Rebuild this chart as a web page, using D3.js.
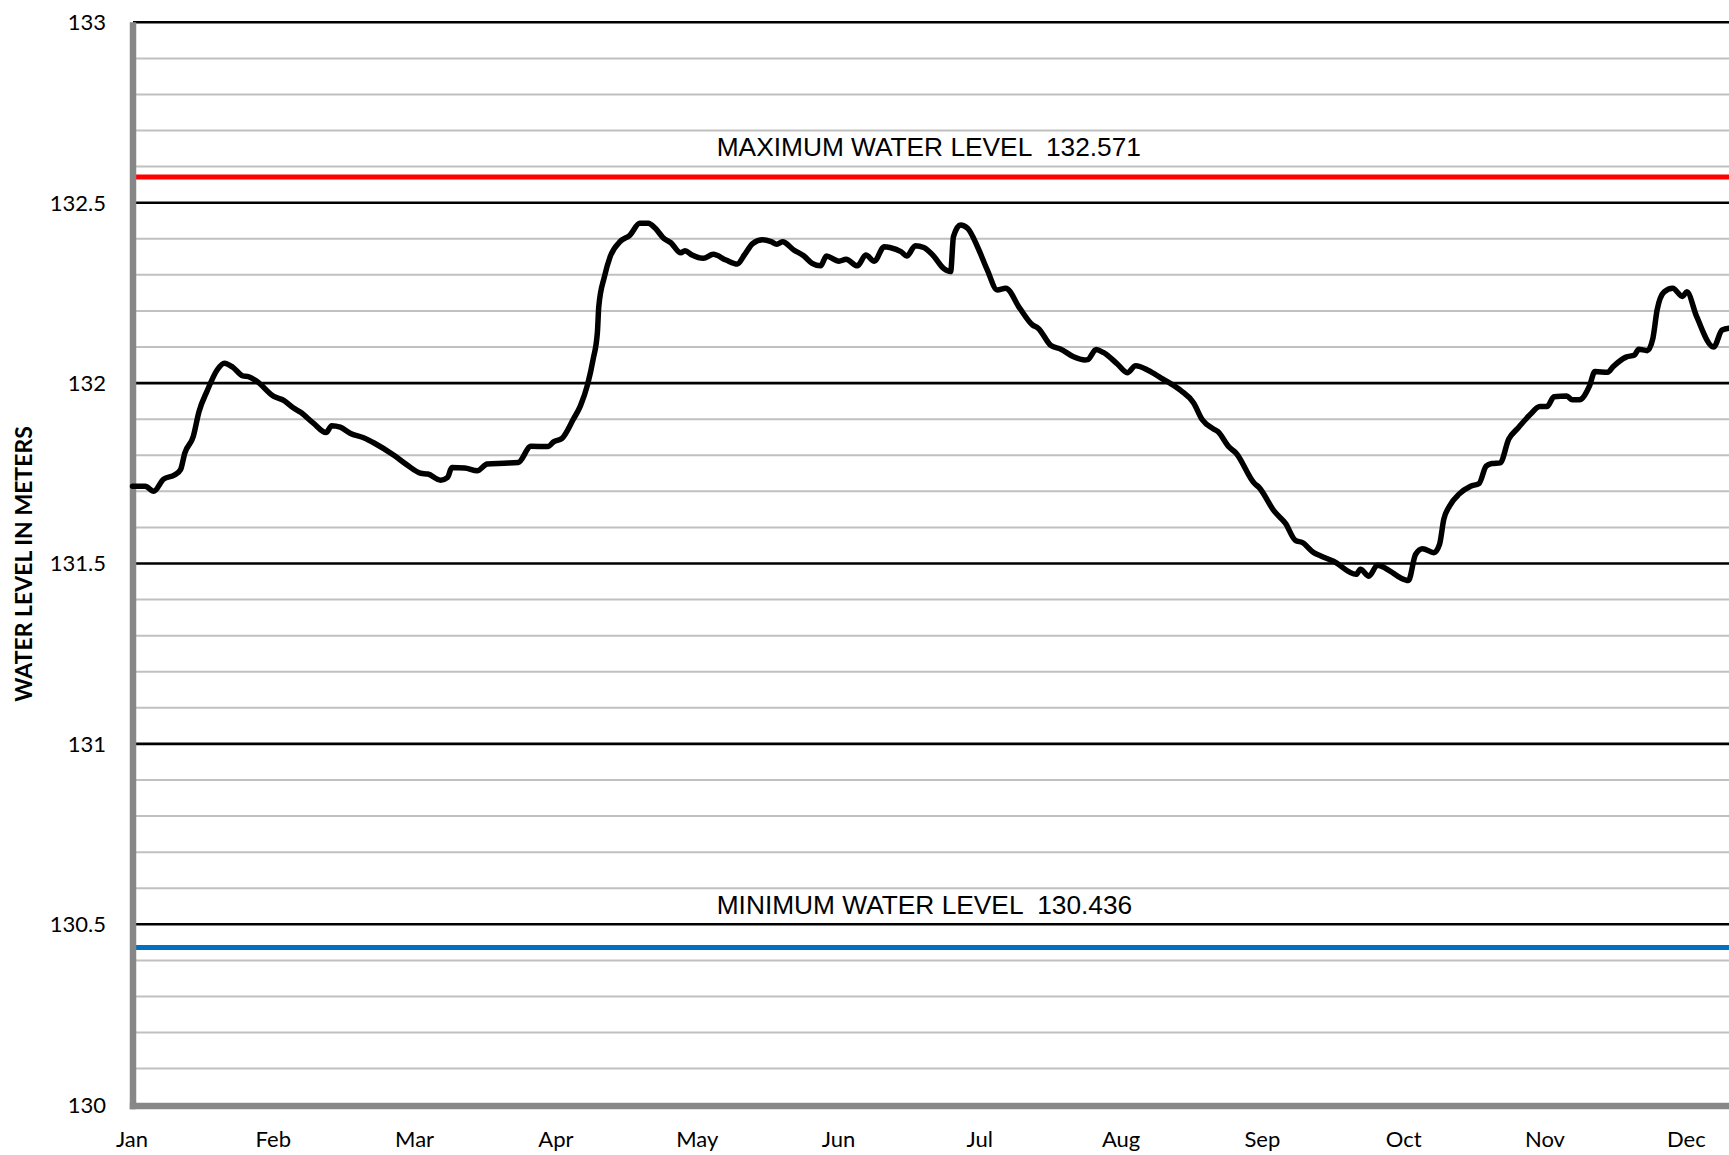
<!DOCTYPE html>
<html>
<head>
<meta charset="utf-8">
<script src="https://cdn.jsdelivr.net/npm/d3@7/dist/d3.min.js"></script>
<style>
  html, body { margin: 0; padding: 0; background: #fff; }
  svg { display: block; }
  .tick-label { font-family: Lato, "Noto Sans", sans-serif; font-size: 22px; fill: #000; }
  .ref-label { font-family: "Liberation Sans", Arial, sans-serif; font-size: 26.3px; fill: #000; white-space: pre; }
  .axis-title { font-family: Lato, "Noto Sans", sans-serif; font-size: 23px; font-weight: bold; fill: #000; }
</style>
</head>
<body>
<svg id="chart"></svg>
<script>
// month categories (equally spaced on the axis)
const months = ['Jan', 'Feb', 'Mar', 'Apr', 'May', 'Jun', 'Jul', 'Aug', 'Sep', 'Oct', 'Nov', 'Dec'];

// position of each reading, in months since 1 Jan
const monthPos = [
  0.00, 0.09, 0.15, 0.22, 0.30, 0.34, 0.37, 0.43, 0.47, 0.53, 0.60, 0.65, 0.71, 0.78, 0.82, 0.88,
  1.00, 1.07, 1.14, 1.19, 1.28, 1.37, 1.41, 1.47, 1.54, 1.64, 1.71, 1.85, 1.94,
  2.04, 2.09, 2.18, 2.23, 2.26, 2.35, 2.44, 2.51, 2.63, 2.73, 2.82, 2.94, 2.98,
  3.04, 3.12, 3.17, 3.22, 3.26, 3.29, 3.30, 3.34, 3.38, 3.45, 3.52, 3.59, 3.65, 3.70, 3.76, 3.81, 3.88, 3.91, 3.96,
  4.04, 4.11, 4.20, 4.28, 4.33, 4.39, 4.46, 4.52, 4.56, 4.60, 4.68, 4.75, 4.81, 4.87, 4.91,
  5.00, 5.05, 5.13, 5.19, 5.25, 5.32, 5.36, 5.44, 5.48, 5.54, 5.60, 5.67, 5.74, 5.79, 5.81, 5.86, 5.91, 5.98,
  6.05, 6.12, 6.18, 6.28, 6.37, 6.41, 6.50, 6.57, 6.66, 6.74, 6.76, 6.82, 6.87, 6.97,
  7.04, 7.10, 7.19, 7.28, 7.35, 7.42, 7.51, 7.57, 7.65, 7.68, 7.76, 7.81, 7.94, 7.97,
  8.08, 8.16, 8.23, 8.28, 8.36, 8.41, 8.50, 8.66, 8.69, 8.75, 8.81, 8.90, 8.97,
  9.03, 9.08, 9.13, 9.21, 9.25, 9.28, 9.32, 9.39, 9.47, 9.53, 9.58, 9.62, 9.68, 9.74, 9.80, 9.89, 9.96,
  10.01, 10.06, 10.15, 10.19, 10.24, 10.31, 10.35, 10.44, 10.48, 10.57, 10.63, 10.66, 10.72, 10.76, 10.79, 10.84, 10.90, 10.97,
  11.00, 11.07, 11.19, 11.25, 11.30
];

// water level in meters
const waterLevel = [
  131.714, 131.714, 131.700, 131.734, 131.746, 131.760, 131.806, 131.852, 131.920, 131.980, 132.037, 132.055, 132.044, 132.020, 132.018, 132.005,
  131.963, 131.952, 131.931, 131.919, 131.889, 131.863, 131.882, 131.878, 131.861, 131.848, 131.834, 131.800, 131.774,
  131.750, 131.748, 131.731, 131.739, 131.766, 131.765, 131.757, 131.776, 131.778, 131.780, 131.825, 131.824, 131.837,
  131.847, 131.900, 131.937, 131.995, 132.066, 132.140, 132.212, 132.295, 132.350, 132.392, 132.410, 132.443, 132.443, 132.429, 132.401, 132.389, 132.361, 132.367, 132.355,
  132.346, 132.357, 132.341, 132.330, 132.355, 132.387, 132.397, 132.392, 132.385, 132.392, 132.369, 132.353, 132.332, 132.325, 132.352,
  132.338, 132.343, 132.325, 132.355, 132.338, 132.378, 132.376, 132.364, 132.352, 132.381, 132.376, 132.352, 132.318, 132.309, 132.406, 132.438, 132.429, 132.378,
  132.313, 132.258, 132.263, 132.207, 132.161, 132.152, 132.104, 132.094, 132.073, 132.064, 132.065, 132.093, 132.085, 132.053,
  132.029, 132.048, 132.035, 132.014, 131.998, 131.979, 131.945, 131.899, 131.873, 131.866, 131.823, 131.806, 131.722, 131.712,
  131.645, 131.611, 131.564, 131.558, 131.530, 131.521, 131.506, 131.470, 131.484, 131.465, 131.495, 131.479, 131.461,
  131.453, 131.525, 131.541, 131.530, 131.553, 131.622, 131.659, 131.693, 131.714, 131.722, 131.770, 131.777, 131.779, 131.845, 131.873, 131.912, 131.935,
  131.935, 131.962, 131.964, 131.954, 131.954, 131.991, 132.032, 132.030, 132.046, 132.072, 132.078, 132.094, 132.090, 132.124, 132.203, 132.253, 132.263, 132.240,
  132.253, 132.184, 132.100, 132.147, 132.152
];

const yTicks = [130, 130.5, 131, 131.5, 132, 132.5, 133];
const maxLevel = 132.571;
const minLevel = 130.436;

const W = 1729, H = 1155;
const svg = d3.select('#chart').attr('width', W).attr('height', H);

const plotLeft = 133, plotTop = 22.3, plotBottom = 1104.7;
const monthStep = 141.3;

const x = d3.scaleLinear().domain([0, 12]).range([132.5, 132.5 + monthStep * 12]);
const y = d3.scaleLinear().domain([130, 133]).range([plotBottom, plotTop]);

// minor gridlines every 0.1 m
const minor = d3.range(1, 30).filter(i => i % 5 !== 0).map(i => 130 + i / 10);
svg.append('g').selectAll('line').data(minor).join('line')
  .attr('x1', plotLeft).attr('x2', W)
  .attr('y1', d => y(d)).attr('y2', d => y(d))
  .attr('stroke', '#c0c0c0').attr('stroke-width', 2);

// major gridlines every 0.5 m
svg.append('g').selectAll('line').data(yTicks.filter(d => d > 130)).join('line')
  .attr('x1', plotLeft).attr('x2', W)
  .attr('y1', d => y(d)).attr('y2', d => y(d))
  .attr('stroke', '#000').attr('stroke-width', 2.6);

// reference levels
svg.append('line')
  .attr('x1', plotLeft).attr('x2', W)
  .attr('y1', y(maxLevel)).attr('y2', y(maxLevel))
  .attr('stroke', '#ff0000').attr('stroke-width', 5);
svg.append('line')
  .attr('x1', plotLeft).attr('x2', W)
  .attr('y1', y(minLevel)).attr('y2', y(minLevel))
  .attr('stroke', '#0070c0').attr('stroke-width', 5);

svg.append('text').attr('class', 'ref-label')
  .attr('x', 716.7).attr('y', 156)
  .text('MAXIMUM WATER LEVEL  ' + maxLevel.toFixed(3));
svg.append('text').attr('class', 'ref-label')
  .attr('x', 716.7).attr('y', 914)
  .text('MINIMUM WATER LEVEL  ' + minLevel.toFixed(3));

// axes (thick grey, Excel style)
svg.append('line')
  .attr('x1', plotLeft).attr('x2', plotLeft)
  .attr('y1', plotTop).attr('y2', plotBottom + 4.6)
  .attr('stroke', '#878787').attr('stroke-width', 6.5);
svg.append('line')
  .attr('x1', plotLeft - 3.2).attr('x2', W)
  .attr('y1', plotBottom + 1.3).attr('y2', plotBottom + 1.3)
  .attr('stroke', '#878787').attr('stroke-width', 6.5);

// y tick labels
svg.append('g').selectAll('text').data(yTicks).join('text')
  .attr('class', 'tick-label')
  .attr('x', 106).attr('y', d => y(d)).attr('dy', '0.36em')
  .attr('text-anchor', 'end')
  .text(d => d3.format('~g')(d));

// x tick labels
svg.append('g').selectAll('text').data(months).join('text')
  .attr('class', 'tick-label')
  .attr('x', (d, i) => x(i) - 0.5).attr('y', 1147)
  .attr('text-anchor', 'middle')
  .text(d => d);

// axis title
svg.append('text').attr('class', 'axis-title')
  .attr('transform', 'translate(32,564) rotate(-90)')
  .attr('text-anchor', 'middle')
  .text('WATER LEVEL IN METERS');

// water level line
const series = monthPos.map((m, i) => ({ m, v: waterLevel[i] }));
const line = d3.line()
  .x(d => x(d.m))
  .y(d => y(d.v))
  .curve(d3.curveMonotoneX);

svg.append('path')
  .datum(series)
  .attr('d', line)
  .attr('fill', 'none')
  .attr('stroke', '#000')
  .attr('stroke-width', 5.5)
  .attr('stroke-linejoin', 'round')
  .attr('stroke-linecap', 'round');
</script>
</body>
</html>
